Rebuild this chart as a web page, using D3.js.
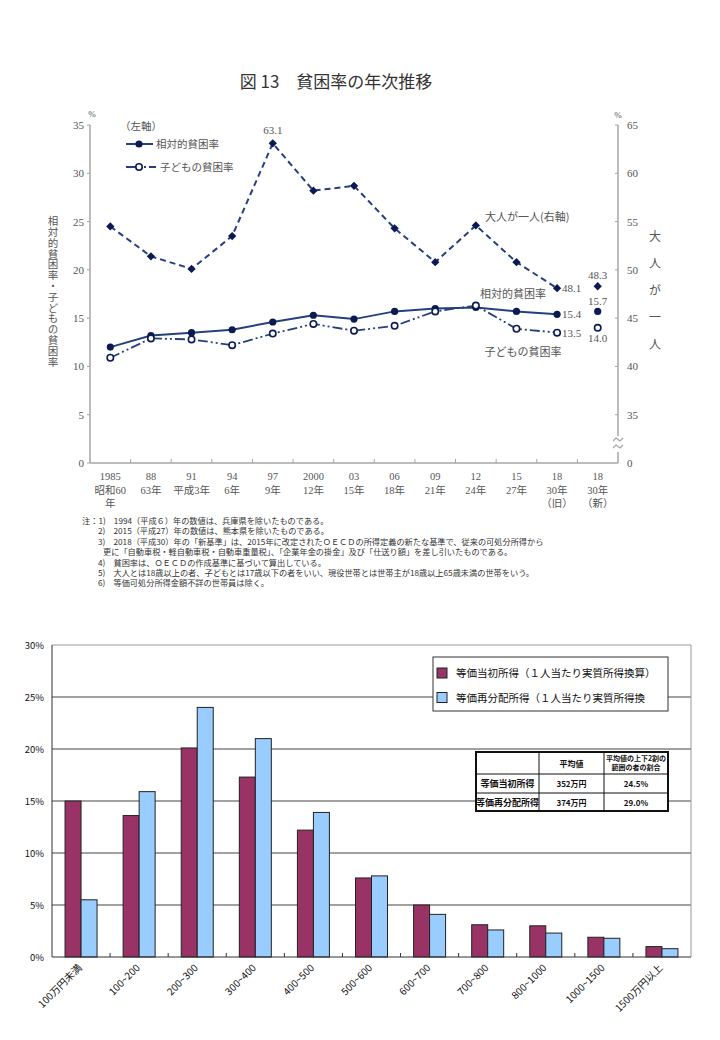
<!DOCTYPE html>
<html><head><meta charset="utf-8">
<script src="https://cdn.jsdelivr.net/npm/d3@7"></script>
<style>body{margin:0;background:#fff}</style>
</head><body>
<svg id="c" width="720" height="1040"></svg>
<script>
// ---- Top chart data ----
const catLine1 = ["1985","88","91","94","97","2000","03","06","09","12","15","18","18"];
const catLine2 = ["昭和60","63年","平成3年","6年","9年","12年","15年","18年","21年","24年","27年","30年","30年"];
const catLine3 = ["年","","","","","","","","","","","（旧）","（新）"];
const relPoverty   = [12.0,13.2,13.5,13.8,14.6,15.3,14.9,15.7,16.0,16.1,15.7,15.4,15.7];
const childPoverty = [10.9,12.9,12.8,12.2,13.4,14.4,13.7,14.2,15.7,16.3,13.9,13.5,14.0];
const singleAdult  = [54.5,51.4,50.1,53.5,63.1,58.2,58.7,54.3,50.8,54.6,50.8,48.1,48.3];
const leftTicks  = [0,5,10,15,20,25,30,35];
const rightTicks = [35,40,45,50,55,60,65];
const notes = [
 "注：1)　1994（平成６）年の数値は、兵庫県を除いたものである。",
 "2)　2015（平成27）年の数値は、熊本県を除いたものである。",
 "3)　2018（平成30）年の「新基準」は、2015年に改定されたＯＥＣＤの所得定義の新たな基準で、従来の可処分所得から",
 "更に「自動車税・軽自動車税・自動車重量税」、「企業年金の掛金」及び「仕送り額」を差し引いたものである。",
 "4)　貧困率は、ＯＥＣＤの作成基準に基づいて算出している。",
 "5)　大人とは18歳以上の者、子どもとは17歳以下の者をいい、現役世帯とは世帯主が18歳以上65歳未満の世帯をいう。",
 "6)　等価可処分所得金額不詳の世帯員は除く。"
];
// ---- Bottom chart data ----
const incomeCats = ["100万円未満","100~200","200~300","300~400","400~500","500~600","600~700","700~800","800~1000","1000~1500","1500万円以上"];
const initialIncome = [15.0,13.6,20.1,17.3,12.2,7.6,5.0,3.1,3.0,1.9,1.0];
const redistIncome  = [5.5,15.9,24.0,21.0,13.9,7.8,4.1,2.6,2.3,1.8,0.8];
const barTicks = [0,5,10,15,20,25,30];
const seriesNames = ["等価当初所得（１人当たり実質所得換算）","等価再分配所得（１人当たり実質所得換"];
const tableHeader = ["","平均値","平均値の上下2割の|範囲の者の割合"];
const tableRows = [["等価当初所得","352万円","24.5%"],["等価再分配所得","374万円","29.0%"]];

const svg = d3.select("#c");
const SERIF = "'Liberation Serif','Noto Sans CJK JP',serif";
const JP = "'Noto Sans CJK JP',sans-serif";
const navy = "#26407e", mk = "#0c1a52", axc = "#a6a6a6", txc = "#555";

// Title
svg.append("text").attr("x",336).attr("y",88).attr("text-anchor","middle")
  .attr("font-family",JP).attr("font-size",17).attr("fill","#333").text("図 13　貧困率の年次推移");

// scales
const idx = d3.range(catLine1.length);
const x = d3.scaleBand().domain(idx).range([90,618]);
const cx = i => x(i) + x.bandwidth()/2;
const yL = d3.scaleLinear().domain([0,35]).range([463,125]);
const yR = v => v === 0 ? yL(0) : yL(v - 30);

const gTop = svg.append("g");
// left axis
gTop.append("line").attr("x1",90).attr("x2",90).attr("y1",125).attr("y2",463).attr("stroke",axc).attr("stroke-width",1.5);
gTop.selectAll(".lt").data(leftTicks).join("text").attr("x",84).attr("y",d=>yL(d)+4)
  .attr("text-anchor","end").attr("font-family",SERIF).attr("font-size",11).attr("fill",txc).text(d=>d);
gTop.selectAll(".ltk").data(leftTicks).join("line").attr("x1",87).attr("x2",90).attr("y1",d=>yL(d)).attr("y2",d=>yL(d)).attr("stroke",axc);
// right axis with break
gTop.append("line").attr("x1",618).attr("x2",618).attr("y1",125).attr("y2",436).attr("stroke",axc).attr("stroke-width",1.5);
gTop.append("line").attr("x1",618).attr("x2",618).attr("y1",452).attr("y2",463).attr("stroke",axc).attr("stroke-width",1.5);
gTop.append("path").attr("d","M613,441 l3,-3 l4,3 l3,-3 M613,448 l3,-3 l4,3 l3,-3").attr("fill","none").attr("stroke",axc).attr("stroke-width",1.3);
gTop.selectAll(".rt").data(rightTicks.concat([0])).join("text").attr("x",627).attr("y",d=>yR(d)+4)
  .attr("font-family",SERIF).attr("font-size",11).attr("fill",txc).text(d=>d);
gTop.selectAll(".rtk").data(rightTicks).join("line").attr("x1",615).attr("x2",618).attr("y1",d=>yR(d)).attr("y2",d=>yR(d)).attr("stroke",axc);
// x axis
gTop.append("line").attr("x1",90).attr("x2",618).attr("y1",463).attr("y2",463).attr("stroke",axc).attr("stroke-width",1.5);
gTop.selectAll(".xtk").data(idx.slice(1)).join("line").attr("x1",d=>x(d)).attr("x2",d=>x(d)).attr("y1",459).attr("y2",463).attr("stroke",axc);
[catLine1,catLine2,catLine3].forEach((arr,k)=>{
  gTop.selectAll(".xl"+k).data(arr).join("text").attr("x",(d,i)=>cx(i)).attr("y",480+k*13.5)
    .attr("text-anchor","middle").attr("font-family",SERIF).attr("font-size",10.5).attr("fill",txc).text(d=>d);
});
// % units
gTop.append("text").attr("x",92).attr("y",117).attr("text-anchor","middle").attr("font-family",SERIF).attr("font-size",9).attr("fill",txc).text("%");
gTop.append("text").attr("x",618).attr("y",118).attr("text-anchor","middle").attr("font-family",SERIF).attr("font-size",9).attr("fill",txc).text("%");
// axis titles
gTop.append("text").attr("x",53).attr("y",216).attr("writing-mode","vertical-rl")
  .attr("font-family",JP).attr("font-size",10.5).attr("fill",txc).attr("letter-spacing","0.3").text("相対的貧困率・子どもの貧困率");
gTop.append("text").attr("x",655).attr("y",230).attr("writing-mode","vertical-rl")
  .attr("font-family",JP).attr("font-size",12).attr("fill",txc).attr("letter-spacing","15").text("大人が一人");

// lines
const main = idx.slice(0,12);
const lineL = d3.line().x(i=>cx(i));
gTop.append("path").attr("d",lineL.y(i=>yR(singleAdult[i]))(main)).attr("fill","none").attr("stroke",navy).attr("stroke-width",2).attr("stroke-dasharray","6,4");
gTop.append("path").attr("d",lineL.y(i=>yL(relPoverty[i]))(main)).attr("fill","none").attr("stroke",navy).attr("stroke-width",2);
gTop.append("path").attr("d",lineL.y(i=>yL(childPoverty[i]))(main)).attr("fill","none").attr("stroke",navy).attr("stroke-width",1.8).attr("stroke-dasharray","10,3,2,3,2,3");
// markers
const dia = d3.symbol().type(d3.symbolDiamond2).size(44);
gTop.selectAll(".ad").data(idx).join("path").attr("d",dia).attr("transform",i=>`translate(${cx(i)},${yR(singleAdult[i])})`).attr("fill",mk);
gTop.selectAll(".rp").data(idx).join("circle").attr("cx",cx).attr("cy",i=>yL(relPoverty[i])).attr("r",3.6).attr("fill",mk);
gTop.selectAll(".cp").data(idx).join("circle").attr("cx",cx).attr("cy",i=>yL(childPoverty[i])).attr("r",3.2).attr("fill","#fff").attr("stroke",mk).attr("stroke-width",1.6);

// annotations
const ann = (t,xx,yy,anchor,fam,fs)=>gTop.append("text").attr("x",xx).attr("y",yy).attr("text-anchor",anchor||"start")
  .attr("font-family",fam||SERIF).attr("font-size",fs||11).attr("fill",txc).text(t);
ann(singleAdult[4].toFixed(1), cx(4), yR(singleAdult[4])-9, "middle");
ann(singleAdult[11].toFixed(1), cx(11)+5, yR(singleAdult[11])+4);
ann(singleAdult[12].toFixed(1), cx(12), yR(singleAdult[12])-7, "middle");
ann(relPoverty[11].toFixed(1), cx(11)+5, yL(relPoverty[11])+4);
ann(relPoverty[12].toFixed(1), cx(12), yL(relPoverty[12])-6, "middle");
ann(childPoverty[11].toFixed(1), cx(11)+5, yL(childPoverty[11])+4);
ann(childPoverty[12].toFixed(1), cx(12), yL(childPoverty[12])+14, "middle");
ann("大人が一人(右軸)", 485, 221, "start", JP, 11);
ann("相対的貧困率", 513, 298, "middle", JP, 11);
ann("子どもの貧困率", 523, 356, "middle", JP, 11);
// legend
ann("（左軸）", 120, 130, "start", JP, 10.5);
gTop.append("line").attr("x1",126).attr("x2",153).attr("y1",144).attr("y2",144).attr("stroke",navy).attr("stroke-width",2);
gTop.append("circle").attr("cx",139).attr("cy",144).attr("r",3.6).attr("fill",mk);
ann("相対的貧困率", 156, 148, "start", JP, 10.5);
gTop.append("line").attr("x1",126).attr("x2",156).attr("y1",167).attr("y2",167).attr("stroke",navy).attr("stroke-width",1.8).attr("stroke-dasharray","10,3,2,3,2,3");
gTop.append("circle").attr("cx",139).attr("cy",167).attr("r",3.2).attr("fill","#fff").attr("stroke",mk).attr("stroke-width",1.6);
ann("子どもの貧困率", 160, 171, "start", JP, 10.5);

// notes
svg.selectAll(".note").data(notes).join("text")
  .attr("x",(d,i)=> i===0 ? 82 : (i===3 ? 103 : 98)).attr("y",(d,i)=>524+i*10.4)
  .attr("font-family",JP).attr("font-size",8.2).attr("fill","#333").text(d=>d);

// ---- Bottom chart ----
const b = svg.append("g");
const x0 = d3.scaleBand().domain(incomeCats).range([52,691]);
const x1 = d3.scaleBand().domain([0,1]).range([0,32]);
const yb = d3.scaleLinear().domain([0,30]).range([957,645]);
const off = (x0.bandwidth()-32)/2;
// gridlines
b.selectAll(".g").data(barTicks.slice(1,-1)).join("line").attr("x1",52).attr("x2",691).attr("y1",d=>yb(d)).attr("y2",d=>yb(d)).attr("stroke","#444").attr("stroke-width",1);
b.append("line").attr("x1",52).attr("x2",691).attr("y1",yb(30)).attr("y2",yb(30)).attr("stroke","#999");
b.append("line").attr("x1",691).attr("x2",691).attr("y1",yb(30)).attr("y2",yb(0)).attr("stroke","#999");
// bars
const series = [initialIncome, redistIncome];
const fills = ["#993366","#99ccff"];
series.forEach((arr,s)=>{
  b.selectAll(".bar"+s).data(incomeCats).join("rect")
    .attr("x",d=>x0(d)+off+x1(s)).attr("width",x1.bandwidth())
    .attr("y",(d,i)=>yb(arr[i])).attr("height",(d,i)=>yb(0)-yb(arr[i]))
    .attr("fill",fills[s]).attr("stroke","#222").attr("stroke-width",1);
});
// axes
b.append("line").attr("x1",52).attr("x2",52).attr("y1",yb(30)).attr("y2",yb(0)).attr("stroke","#333");
b.append("line").attr("x1",52).attr("x2",691).attr("y1",yb(0)).attr("y2",yb(0)).attr("stroke","#333");
b.selectAll(".bt").data(incomeCats.slice(1)).join("line").attr("x1",d=>x0(d)).attr("x2",d=>x0(d)).attr("y1",yb(0)-4).attr("y2",yb(0)).attr("stroke","#333");
b.selectAll(".yl").data(barTicks).join("text").attr("x",44).attr("y",d=>yb(d)+4).attr("text-anchor","end")
  .attr("font-family",JP).attr("font-size",9.5).attr("fill","#111").text(d=>d+"%");
b.selectAll(".xl").data(incomeCats).join("text")
  .attr("transform",d=>`translate(${x0(d)+x0.bandwidth()/2-1},${966}) rotate(-45)`)
  .attr("text-anchor","end").attr("dy","0.35em").attr("font-family",JP).attr("font-size",10).attr("fill","#111").text(d=>d);
// legend
b.append("rect").attr("x",433).attr("y",657).attr("width",235).attr("height",54).attr("fill","#fff").attr("stroke","#333");
series.forEach((arr,s)=>{
  b.append("rect").attr("x",437).attr("y",668+s*24.5).attr("width",10).attr("height",10).attr("fill",fills[s]).attr("stroke","#222");
  b.append("text").attr("x",456).attr("y",677+s*24.5).attr("font-family",JP).attr("font-size",10.5).attr("fill","#111").text(seriesNames[s]);
});
// table
const colX = [476,539,604,668], rowY = [752,774,793,811];
const tb = b.append("g");
tb.append("rect").attr("x",colX[0]).attr("y",rowY[0]).attr("width",colX[3]-colX[0]).attr("height",rowY[3]-rowY[0]).attr("fill","#fff").attr("stroke","#111").attr("stroke-width",2);
[colX[1],colX[2]].forEach(c=>tb.append("line").attr("x1",c).attr("x2",c).attr("y1",rowY[0]).attr("y2",rowY[3]).attr("stroke","#111"));
[rowY[1],rowY[2]].forEach(r=>tb.append("line").attr("x1",colX[0]).attr("x2",colX[3]).attr("y1",r).attr("y2",r).attr("stroke","#111"));
tableHeader.forEach((h,c)=>{
  const parts = h.split("|");
  parts.forEach((p,k)=>{
    tb.append("text").attr("x",(colX[c]+colX[c+1])/2).attr("y", parts.length>1 ? rowY[0]+9+k*9 : rowY[0]+15)
      .attr("text-anchor","middle").attr("font-family",JP).attr("font-size",parts.length>1?7:8).attr("font-weight","bold").attr("fill","#111").text(p);
  });
});
tableRows.forEach((row,r)=>{
  row.forEach((v,c)=>{
    tb.append("text").attr("x",(colX[c]+colX[c+1])/2).attr("y",rowY[r+1]+13)
      .attr("text-anchor","middle").attr("font-family",JP).attr("font-size",c===0?9:8).attr("font-weight","bold").attr("fill","#111").text(v);
  });
});
</script>
</body></html>
